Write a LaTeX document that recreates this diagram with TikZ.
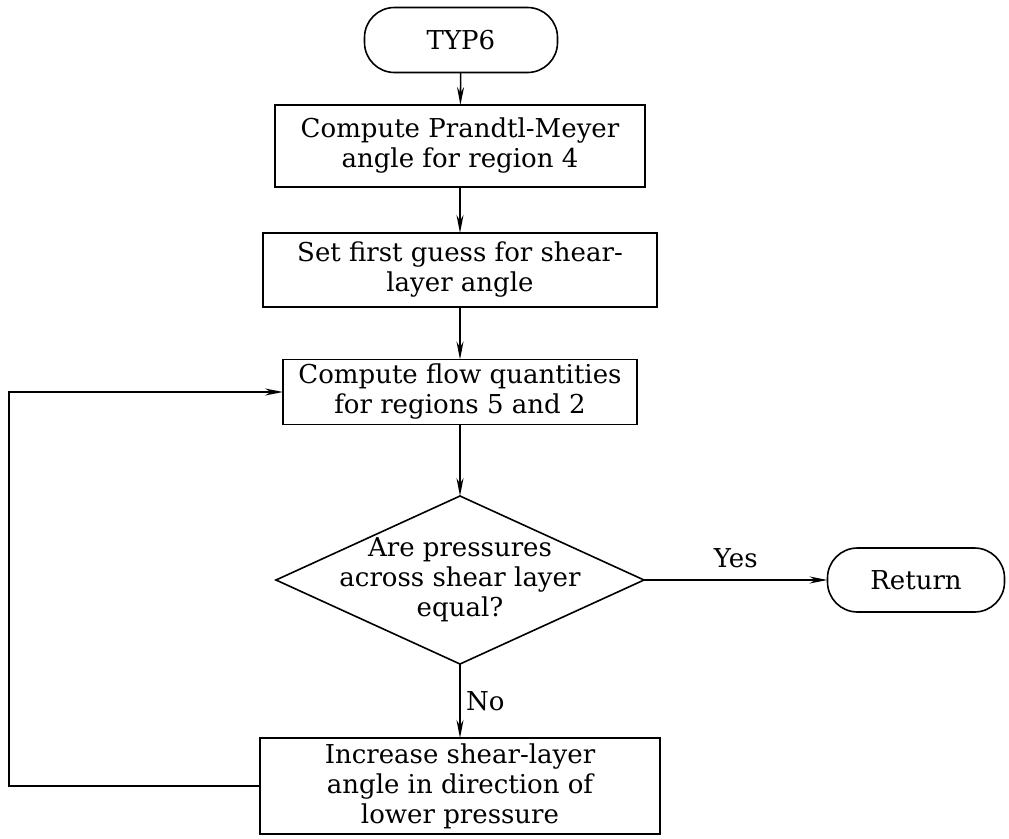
\documentclass[tikz,border=0pt]{standalone}
\usepackage{fontspec}
\setmainfont{DejaVu Serif}
\usetikzlibrary{shapes.geometric,arrows.meta}
\begin{document}
\begin{tikzpicture}[x=1pt,y=-1pt,
  every node/.style={font=\fontsize{26}{30}\selectfont, align=center, inner sep=0pt, outer sep=0pt},
  flowline/.style={line width=1.6pt},
  arr/.style={flowline, -{Stealth[length=18pt,width=7pt]}},
  procbox/.style={draw, line width=1.6pt, rectangle},
  termbox/.style={draw, line width=1.6pt, rectangle, rounded corners=30pt},
  decbox/.style={draw, line width=1.6pt, diamond},
]
\useasboundingbox (0,0) rectangle (1009,838);

% main column
\node[termbox, minimum width=193pt, minimum height=65pt] (start) at (461,40) {TYP6};
\node[procbox, minimum width=370pt, minimum height=82pt] (pm) at (460,146)
  {Compute Prandtl-Meyer\\angle for region 4};
\node[procbox, minimum width=394pt, minimum height=74pt] (guess) at (460,270)
  {Set first guess for shear-\\layer angle};
\node[procbox, minimum width=354pt, minimum height=65pt] (flow) at (460,392)
  {Compute flow quantities\\for regions 5 and 2};
\node[decbox, minimum width=368pt, minimum height=168pt] (test) at (460,580) {};
\node (testtext) at (460,580) {Are pressures\\across shear layer\\equal?};
\node[procbox, minimum width=400pt, minimum height=96pt] (incr) at (460,786)
  {Increase shear-layer\\angle in direction of\\lower pressure};
\node[termbox, minimum width=177pt, minimum height=64pt] (ret) at (916,580) {Return};

% loop corners
\coordinate (lb) at (9,786);
\coordinate (lt) at (9,392);

% connectors
\draw[arr] (start) -- (pm);
\draw[arr] (pm) -- (guess);
\draw[arr] (guess) -- (flow);
\draw[arr] (flow) -- (test.north);
\draw[arr] (test.east) -- node[above=12pt] (yes) {Yes} (ret.west);
\draw[arr] (test.south) -- node[right=6pt] (no) {No} (incr.north);
\draw[arr] (incr.west) -- (lb) -- (lt) -- (flow.west);
\end{tikzpicture}
\end{document}
